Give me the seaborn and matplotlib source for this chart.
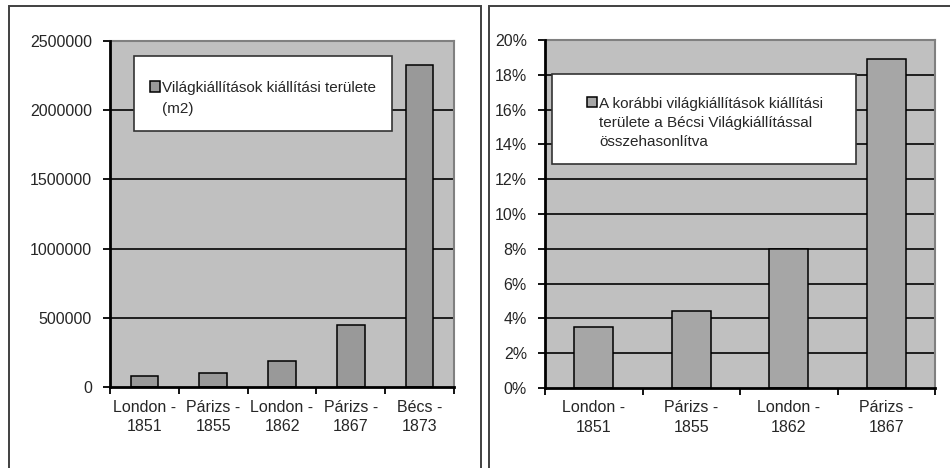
import matplotlib
matplotlib.use("Agg")
import matplotlib.pyplot as plt
from matplotlib.patches import Rectangle
import seaborn as sns
import pandas as pd

# adatok
helyszin = ["London -\n1851", "Párizs -\n1855", "London -\n1862", "Párizs -\n1867", "Bécs -\n1873"]
terulet = [82000, 104000, 190000, 450000, 2330000]
arany = [3.5, 4.4, 8.0, 18.9]  # %

label_bal = "Világkiállítások kiállítási területe\n(m2)"
label_jobb = "A korábbi világkiállítások kiállítási\nterülete a Bécsi Világkiállítással\nösszehasonlítva"

sns.set_style("white")
plt.rcParams["font.family"] = ["Liberation Sans", "DejaVu Sans"]
plt.rcParams["font.size"] = 11

fig = plt.figure(figsize=(9.5, 4.68), dpi=100)

# keretek
fig.add_artist(Rectangle((9 / 950, -0.1), 472 / 950, 1.1 - 6 / 468, transform=fig.transFigure,
                         fill=False, edgecolor="#404040", lw=1.4))
fig.add_artist(Rectangle((489 / 950, -0.1), 0.6, 1.1 - 6 / 468, transform=fig.transFigure,
                         fill=False, edgecolor="#404040", lw=1.4))

ax1 = fig.add_axes([110 / 950, 1 - 387 / 468, 344 / 950, 346 / 468])
ax2 = fig.add_axes([545 / 950, 1 - 388 / 468, 390 / 950, 348 / 468])

df1 = pd.DataFrame({"hely": helyszin, "ertek": terulet})
df2 = pd.DataFrame({"hely": helyszin[:4], "ertek": arany})

sns.barplot(data=df1, x="hely", y="ertek", ax=ax1, color="#999999", width=0.4,
            edgecolor="black", linewidth=1.1, saturation=1, label=label_bal, zorder=3)
sns.barplot(data=df2, x="hely", y="ertek", ax=ax2, color="#A6A6A6", width=0.4,
            edgecolor="black", linewidth=1.1, saturation=1, label=label_jobb, zorder=3)


def diszit(ax, n, yticks, ylabels):
    ax.set_facecolor("#C0C0C0")
    ax.set_xlim(-0.5, n - 0.5)
    ax.set_ylim(yticks[0], yticks[-1])
    ax.set_yticks(yticks)
    ax.set_yticklabels(ylabels)
    ax.set_xlabel("")
    ax.set_ylabel("")
    ax.set_xticks(range(n))
    ax.set_xticklabels(helyszin[:n], linespacing=1.35)
    ax.set_xticks([i - 0.5 for i in range(n + 1)], minor=True)
    ax.tick_params(axis="x", which="major", length=0, pad=9, labelsize=11.5)
    ax.tick_params(axis="x", which="minor", length=5, width=1.3, color="black", direction="out", bottom=True)
    ax.tick_params(axis="y", length=5, width=1.3, color="black", direction="out", left=True, pad=8, labelsize=11.5)
    for g in yticks[1:-1]:
        ax.axhline(g, color="#111111", lw=1.3, zorder=1)
    for s in ["left", "bottom"]:
        ax.spines[s].set_color("black")
        ax.spines[s].set_linewidth(2)
        ax.spines[s].set_zorder(5)
    for s in ["top", "right"]:
        ax.spines[s].set_color("#808080")
        ax.spines[s].set_linewidth(1.5)


diszit(ax1, 5, [0, 500000, 1000000, 1500000, 2000000, 2500000],
       ["0", "500000", "1000000", "1500000", "2000000", "2500000"])
diszit(ax2, 4, [0, 2, 4, 6, 8, 10, 12, 14, 16, 18, 20],
       [f"{v}%" for v in range(0, 21, 2)])

# jelmagyarazat: feher doboz + keret nelkuli legend
for ax, box, anchor, ls in [(ax1, (24 / 344, 0.74, 258 / 344, 0.957 - 0.74), (0.117, 0.883), 1.6),
                            (ax2, (7 / 390, 0.644, 304 / 390, 0.902 - 0.644), (0.108, 0.836), 1.45)]:
    ax.add_patch(Rectangle(box[:2], box[2], box[3], transform=ax.transAxes, facecolor="white",
                           edgecolor="#333333", lw=1.2, zorder=9))
    leg = ax.legend(loc="upper left", bbox_to_anchor=anchor, frameon=False, fontsize=11,
                    handlelength=0.65, handleheight=0.65, handletextpad=0.15, borderpad=0,
                    borderaxespad=0)
    leg.set_zorder(10)
    for t in leg.get_texts():
        t.set_linespacing(ls)
    # a jel az elso sorhoz igazodjon
    for col in leg._legend_handle_box.get_children():
        for row in col.get_children():
            row.align = "top"

fig.savefig("out.png", dpi=100)
